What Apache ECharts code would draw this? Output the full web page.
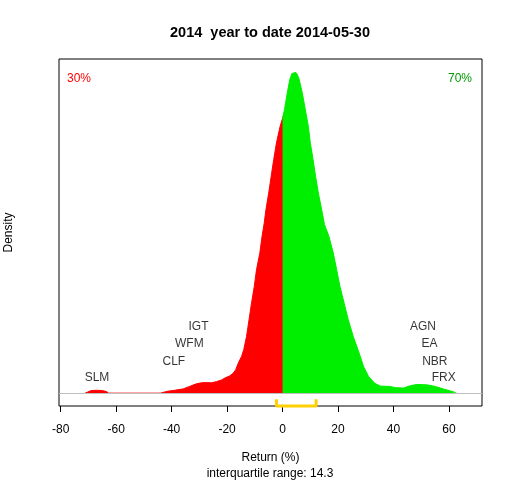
<!DOCTYPE html>
<html>
<head>
<meta charset="utf-8">
<script src="https://cdn.jsdelivr.net/npm/echarts@6/dist/echarts.min.js"></script>
<style>html,body{margin:0;padding:0;background:#fff}#c{width:512px;height:480px}</style>
</head>
<body>
<div id="c"></div>
<script>
// Density of returns below zero (red) and above zero (green), peak scaled to 1
var lossX = [-71.2,-70.5,-69,-67,-65,-63.5,-62.7,-44.0,-43.7,-41.5,-39.5,-37.5,-35.9,-33.5,-31.1,-29.3,-27.5,-25.6,-23.8,-22.0,-20.8,-19.0,-17.8,-16.9,-16.0,-14.8,-14.0,-13.0,-12.1,-11.2,-10.2,-9.4,-8.2,-7.4,-6.6,-6.0,-5.0,-4.1,-3.2,-2.2,-0.9,0,0.5];
var lossY = [0,0.005,0.008,0.009,0.008,0.005,0,0,0.003,0.006,0.008,0.011,0.013,0.021,0.029,0.032,0.033,0.032,0.036,0.041,0.047,0.054,0.062,0.073,0.093,0.114,0.135,0.176,0.228,0.280,0.332,0.384,0.436,0.488,0.530,0.571,0.623,0.675,0.727,0.779,0.830,0.855,0.87];
var gainX = [0,0.7,1.7,2.6,3.4,4.0,4.8,5.4,6.0,7.1,8.2,9.3,10.0,11.0,11.9,12.9,14.1,15.1,16.7,18.3,19.5,20.7,22.2,23.7,25.5,27.6,29.2,31.0,33.2,35.2,38.8,40.6,43.6,46.0,48.4,52.0,55.0,58.0,60.5,62.3,62.6];
var gainY = [0.855,0.883,0.935,0.976,0.995,1.0,0.998,0.990,0.976,0.935,0.883,0.830,0.779,0.727,0.675,0.623,0.571,0.525,0.488,0.436,0.384,0.332,0.280,0.228,0.176,0.125,0.083,0.052,0.031,0.022,0.021,0.017,0.016,0.023,0.027,0.026,0.021,0.013,0.007,0.002,0];
// Labelled stocks
var stockNames = ['SLM','CLF','WFM','IGT','AGN','EA','NBR','FRX'];
var stockX = [-66.9,-39.2,-33.6,-30.3,50.6,53.0,54.9,58.1];
var stockY = [0.048,0.098,0.153,0.206,0.206,0.153,0.098,0.048];
// Interquartile range
var quartiles = [-2.2, 12.1];
var iqrText = 'interquartile range: 14.3';
var xTicks = [-80,-60,-40,-20,0,20,40,60];
var lossPct = '30%', gainPct = '70%';

function zip(a, b){ return a.map(function(v,i){ return [v, b[i]]; }); }
var FONT = 'Liberation Sans, Arial, sans-serif';
var bracketTop = -0.0187, bracketBot = -0.04;

var chart = echarts.init(document.getElementById('c'), null, {renderer:'canvas'});
chart.setOption({
  animation: false,
  backgroundColor: '#fff',
  textStyle: {fontFamily: FONT},
  title: [
    {text: '2014  year to date 2014-05-30', left: 270, top: 25, textAlign: 'center', padding: 0,
     textStyle: {fontFamily: FONT, fontSize: 14.5, fontWeight: 'bold', color: '#000'}},
    {text: lossPct, left: 67, top: 73, padding: 0, textStyle: {fontFamily: FONT, fontSize: 12, fontWeight: 'normal', color: '#ff0000'}},
    {text: gainPct, right: 40, top: 73, padding: 0, textStyle: {fontFamily: FONT, fontSize: 12, fontWeight: 'normal', color: '#009a00'}},
    {text: iqrText, left: 270, top: 468, textAlign: 'center', padding: 0,
     textStyle: {fontFamily: FONT, fontSize: 12, fontWeight: 'normal', color: '#000'}}
  ],
  grid: {left: 59, right: 30, top: 59, bottom: 74, show: true, borderColor: '#000', borderWidth: 1,
         backgroundColor: 'transparent', containLabel: false, outerBoundsMode: 'none'},
  xAxis: {
    type: 'value', min: -80.6, max: 71.9,
    name: 'Return (%)', nameLocation: 'middle', nameGap: 46,
    nameTextStyle: {fontFamily: FONT, fontSize: 12, color: '#000'},
    axisLine: {show: false, onZero: false},
    axisTick: {show: true, inside: false, length: 6, customValues: xTicks, lineStyle: {color: '#000'}},
    axisLabel: {show: true, margin: 18, customValues: xTicks, fontFamily: FONT, fontSize: 12, color: '#000'},
    splitLine: {show: false}
  },
  yAxis: {
    type: 'value', min: -0.04, max: 1.04,
    name: 'Density', nameLocation: 'middle', nameGap: 44.5, nameRotate: 90,
    nameTextStyle: {fontFamily: FONT, fontSize: 12, color: '#000'},
    axisLine: {show: false, onZero: false}, axisTick: {show: false}, axisLabel: {show: false}, splitLine: {show: false}
  },
  series: [
    {type: 'line', data: zip(lossX, lossY), symbol: 'none', smooth: false,
     lineStyle: {color: '#ff0000', width: 1}, areaStyle: {color: '#ff0000', opacity: 1}, z: 2,
     markLine: {silent: true, symbol: 'none', label: {show: false},
       lineStyle: {color: '#bebebe', width: 1, type: 'solid'}, data: [{yAxis: 0}]}},
    {type: 'line', data: zip(gainX, gainY), symbol: 'none', smooth: false,
     lineStyle: {color: '#00ee00', width: 1}, areaStyle: {color: '#00ee00', opacity: 1}, z: 3},
    {type: 'line', symbol: 'none', clip: false, z: 5,
     data: [[quartiles[0], bracketTop],[quartiles[0], bracketBot],[quartiles[1], bracketBot],[quartiles[1], bracketTop]],
     lineStyle: {color: '#ffd000', width: 3}},
    {type: 'scatter', symbolSize: 0, z: 6,
     data: stockNames.map(function(n,i){ return {name: n, value: [stockX[i], stockY[i]]}; }),
     label: {show: true, position: 'inside', formatter: '{b}', fontFamily: FONT, fontSize: 12, color: '#000'}}
  ]
});
</script>
</body>
</html>
